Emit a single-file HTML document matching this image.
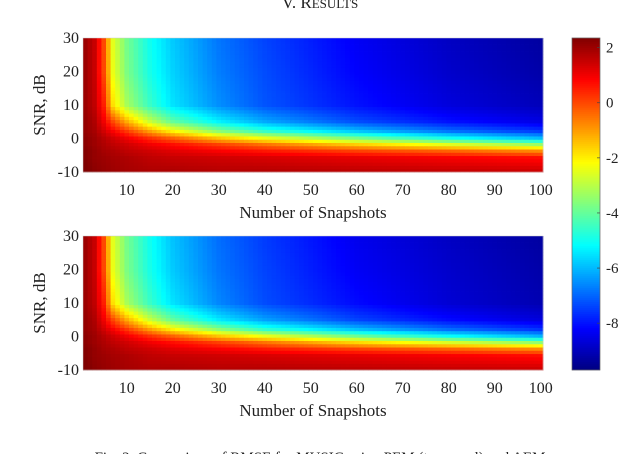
<!DOCTYPE html>
<html><head><meta charset="utf-8">
<style>
html,body{margin:0;padding:0;background:#fff;width:640px;height:454px;overflow:hidden}
svg{display:block;font-family:"Liberation Serif",serif}
</style></head>
<body>
<svg id="chart" width="640" height="454" viewBox="0 0 640 454">
<text x="320" y="8" text-anchor="middle" font-size="17" fill="#222">V. R<tspan font-size="13">ESULTS</tspan></text>
<g id="p1"></g>
<g id="p2"></g>
<g id="cb"></g>
<text x="320" y="462" text-anchor="middle" font-size="15" fill="#222">Fig. 2.  Comparison of RMSE for MUSIC using PEM (top panel) and AEM</text>
</svg>
<script>
// grid nodes (SNR rows, snapshot columns)
const snrGrid = [30,20,10,5,2,0,-2,-4,-6,-10];
const nGrid = [1,3,5,7,10,15,20,30,40,60,80,100];
const valuesTop = [
 [2.0,1.5,0.0,-2.5,-3.8,-5.0,-5.8,-6.8,-7.4,-8.3,-8.9,-9.3],
 [2.0,1.5,0.0,-2.4,-3.7,-4.9,-5.7,-6.7,-7.3,-8.2,-8.8,-9.2],
 [2.0,1.6,0.5,-1.8,-3.2,-4.5,-5.5,-6.5,-7.2,-8.0,-8.6,-9.0],
 [2.1,1.8,1.0,0.0,-1.2,-2.8,-4.0,-5.3,-6.2,-7.3,-8.0,-8.5],
 [2.1,1.9,1.4,0.9,0.2,-1.0,-2.0,-3.5,-4.5,-5.8,-6.8,-7.5],
 [2.2,2.0,1.7,1.4,1.0,0.3,-0.3,-1.5,-2.4,-3.8,-5.0,-6.0],
 [2.2,2.0,1.8,1.6,1.4,1.0,0.7,0.1,-0.5,-1.6,-2.5,-3.4],
 [2.3,2.1,1.9,1.8,1.6,1.4,1.2,0.9,0.6,0.1,-0.3,-0.8],
 [2.3,2.1,2.0,1.9,1.8,1.6,1.5,1.4,1.3,1.1,0.9,0.7],
 [2.4,2.2,2.1,2.0,1.9,1.8,1.8,1.7,1.7,1.6,1.5,1.4]
];
const valuesBottom = [
 [2.0,1.5,0.0,-2.5,-3.8,-5.0,-5.9,-6.9,-7.5,-8.4,-8.9,-9.3],
 [2.0,1.5,0.0,-2.4,-3.7,-4.9,-5.8,-6.8,-7.4,-8.3,-8.8,-9.2],
 [2.0,1.6,0.5,-1.8,-3.2,-4.5,-5.5,-6.6,-7.3,-8.1,-8.7,-9.1],
 [2.1,1.8,1.0,0.0,-1.2,-2.8,-4.0,-5.4,-6.3,-7.4,-8.1,-8.6],
 [2.1,1.9,1.4,0.9,0.2,-1.0,-2.0,-3.5,-4.6,-5.9,-6.9,-7.6],
 [2.2,2.0,1.7,1.4,1.0,0.3,-0.3,-1.5,-2.4,-3.9,-5.1,-6.1],
 [2.2,2.0,1.8,1.6,1.4,1.0,0.7,0.1,-0.5,-1.7,-2.6,-3.5],
 [2.3,2.1,1.9,1.8,1.6,1.4,1.2,0.9,0.6,0.1,-0.3,-0.8],
 [2.3,2.1,2.0,1.9,1.8,1.6,1.5,1.4,1.3,1.1,0.9,0.7],
 [2.4,2.2,2.1,2.0,1.9,1.8,1.8,1.7,1.7,1.6,1.5,1.4]
];
const xTicks = [10,20,30,40,50,60,70,80,90,100];
const yTicks = [30,20,10,0,-10];
const cbTicks = [2,0,-2,-4,-6,-8];
const cMin = -9.7, cMax = 2.35;

const NS="http://www.w3.org/2000/svg";
function mk(t,a,p){const e=document.createElementNS(NS,t);for(const k in a)e.setAttribute(k,a[k]);p.appendChild(e);return e;}
function jet(v){
  let t=(v-cMin)/(cMax-cMin);t=Math.max(0,Math.min(1,t));
  const f=x=>Math.round(255*Math.max(0,Math.min(1,x)));
  return `rgb(${f(1.5-Math.abs(4*t-3))},${f(1.5-Math.abs(4*t-2))},${f(1.5-Math.abs(4*t-1))})`;
}
function seg(arr,x){
  for(let i=0;i<arr.length-1;i++){
    const a=arr[i],b=arr[i+1];
    if((x>=Math.min(a,b))&&(x<=Math.max(a,b))) return [i,(x-a)/(b-a)];
  }
  return [arr.length-2,1];
}
function val(M,snr,n){
  const [i,fi]=seg(snrGrid,snr),[j,fj]=seg(nGrid,n);
  const a=M[i][j]*(1-fj)+M[i][j+1]*fj, b=M[i+1][j]*(1-fj)+M[i+1][j+1]*fj;
  return a*(1-fi)+b*fi;
}
const X0=83,X1=543;
const xS=n=>X0+(n-0.5)*(X1-X0)/100;
function panel(g,M,Y0,Y1){
  const yS=s=>Y1-(s+10.5)*(Y1-Y0)/41;
  const cw=(X1-X0)/100, ch=(Y1-Y0)/41;
  for(let s=-10;s<=30;s++){
    for(let n=1;n<=100;n++){
      const r=mk('rect',{x:(xS(n)-cw/2).toFixed(2),y:(yS(s)-ch/2).toFixed(2),width:(cw+0.4).toFixed(2),height:(ch+0.4).toFixed(2),fill:jet(val(M,s,n))},g);
      
      
    }
  }
  const bx=mk('rect',{x:X0,y:Y0,width:X1-X0,height:Y1-Y0,fill:'none',stroke:'#ccc','stroke-width':0.5},g);
  
  
  xTicks.forEach(t=>{
    const e=mk('text',{x:xS(t),y:Y1+23,'text-anchor':'middle','font-size':16,fill:'#222'},g);e.textContent=t;
    
    
  });
  yTicks.forEach(t=>{
    const y=Y1-(t+10)*(Y1-Y0)/40;
    const e=mk('text',{x:X0-4,y:y+5,'text-anchor':'end','font-size':16,fill:'#222'},g);e.textContent=t;
    
    
  });
  const xt=mk('text',{x:(X0+X1)/2,y:Y1+46,'text-anchor':'middle','font-size':17,fill:'#222'},g);xt.textContent='Number of Snapshots';
  
  
  const yc=(Y0+Y1)/2;
  const yt=mk('text',{x:45,y:yc,'text-anchor':'middle','font-size':17,fill:'#222',transform:`rotate(-90 45 ${yc})`},g);yt.textContent='SNR, dB';
  
  
}
const g1=document.getElementById('p1'),g2=document.getElementById('p2');
panel(g1,valuesTop,38,172);
panel(g2,valuesBottom,236,370);
const cb=document.getElementById('cb');
const CB0=38,CB1=370,CX=572,CW=28;
const cy=v=>CB1-(v-cMin)/(cMax-cMin)*(CB1-CB0);
for(let k=0;k<166;k++){
  const v=cMin+(k+0.5)*(cMax-cMin)/166;
  const r=mk('rect',{x:CX,y:(cy(v)-1.1).toFixed(2),width:CW,height:2.3,fill:jet(v)},cb);
  
  
}
const cbf=mk('rect',{x:CX,y:CB0,width:CW,height:CB1-CB0,fill:'none',stroke:'#666','stroke-width':0.7},cb);


cbTicks.forEach(t=>{
  mk('line',{x1:CX+CW-3,x2:CX+CW,y1:cy(t),y2:cy(t),stroke:'#444','stroke-width':0.7},cb);
  const e=mk('text',{x:CX+CW+6,y:cy(t)+5,'font-size':15,fill:'#222'},cb);e.textContent=t;
  
  
});
</script>
</body></html>
